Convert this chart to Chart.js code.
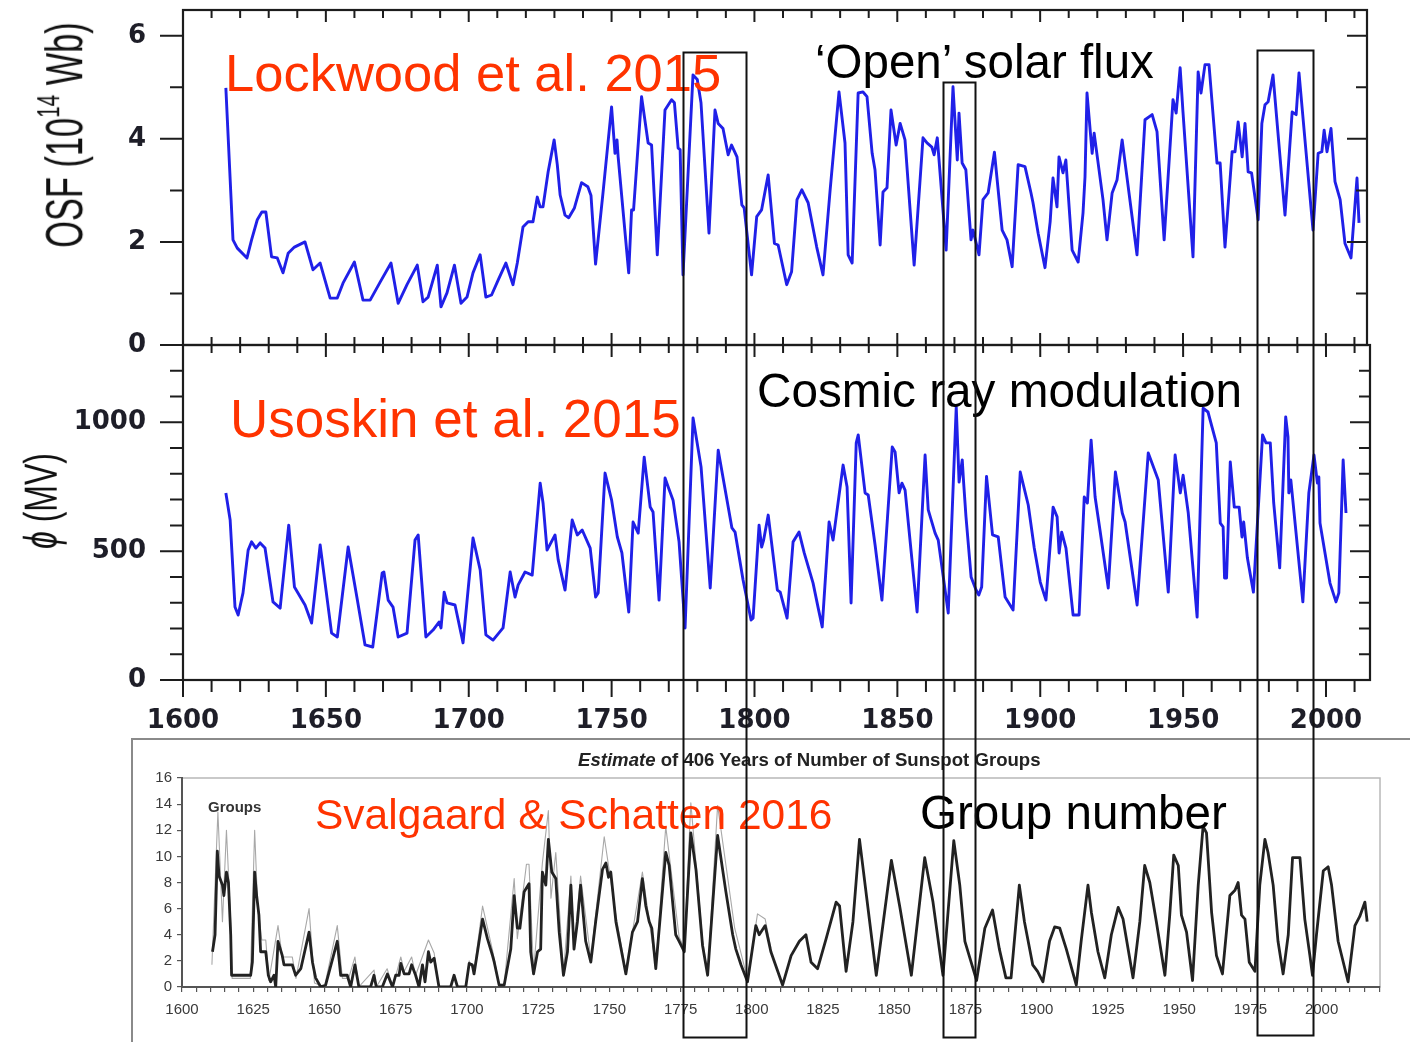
<!DOCTYPE html>
<html>
<head>
<meta charset="utf-8">
<script src="https://cdn.jsdelivr.net/npm/chart.js@4.4.0/dist/chart.umd.min.js"></script>
<style>
  body { margin: 0; width: 1410px; height: 1042px; background: #fff; position: relative; overflow: hidden;
         font-family: "Liberation Sans", Arial, sans-serif; }
  canvas { position: absolute; }
  .lbl { position: absolute; line-height: 1; white-space: nowrap; }
  .red { color: #ff3300; }
  .yt { position: absolute; line-height: 1; white-space: nowrap; color: #111; font-size: 40px; }
  .yt sup { font-size: 24px; vertical-align: 0.75em; line-height: 0; }
  #panel { position: absolute; left: 131px; top: 738px; width: 1320px; height: 340px; border: 2px solid #8a8a8a; box-sizing: border-box; }
</style>
</head>
<body>
<div id="panel"></div>
<canvas id="osf" width="1410" height="360" style="left:0;top:0;width:1410px;height:360px"></canvas>
<canvas id="phi" width="1410" height="410" style="left:0;top:330px;width:1410px;height:410px"></canvas>
<canvas id="grp" width="1279" height="304" style="left:131px;top:738px;width:1279px;height:304px"></canvas>

<div class="yt" style="left:64px;top:135px;transform:translate(-50%,-50%) rotate(-90deg) scale(0.86,1.3)">OSF (10<sup>14</sup> Wb)</div>
<div class="yt" style="left:41px;top:501px;transform:translate(-50%,-50%) rotate(-90deg) scale(0.8,1.15)"><i>ϕ</i> (MV)</div>

<div class="lbl red" style="left:225px;top:47px;font-size:52.5px">Lockwood et al. 2015</div>
<div class="lbl" style="left:815px;top:38px;font-size:47.5px">‘Open’ solar flux</div>
<div class="lbl red" style="left:230px;top:392px;font-size:53px">Usoskin et al. 2015</div>
<div class="lbl" style="left:757px;top:367px;font-size:47.7px">Cosmic ray modulation</div>
<div class="lbl red" style="left:315px;top:794px;font-size:42.5px">Svalgaard &amp; Schatten 2016</div>
<div class="lbl" style="left:920px;top:789px;font-size:47.6px">Group number</div>
<div class="lbl" style="left:208px;top:799px;font-size:15px;font-weight:bold;color:#333">Groups</div>
<div class="lbl" style="left:578px;top:751px;font-size:18.6px;font-weight:bold;color:#222"><i>Estimate</i> of 406 Years of Number of Sunspot Groups</div>

<canvas id="overlay" width="1410" height="1042" style="left:0;top:0;width:1410px;height:1042px;pointer-events:none"></canvas>

<script>
// ---- data ----
const yearTicks = [1600, 1650, 1700, 1750, 1800, 1850, 1900, 1950, 2000];
const osfTicks = [0, 2, 4, 6];
const phiTicks = [0, 500, 1000];
const groupYTicks = [0, 2, 4, 6, 8, 10, 12, 14, 16];
const groupXLabels = [1600, 1625, 1650, 1675, 1700, 1725, 1750, 1775, 1800, 1825, 1850, 1875, 1900, 1925, 1950, 1975, 2000];

// open solar flux (1e14 Wb)
const osfYears = [1615, 1617.5, 1619, 1622.4, 1624, 1626, 1627.6, 1629, 1631, 1633, 1635, 1636.8, 1639, 1642.7, 1645.5, 1648,
  1651.5, 1654, 1656, 1660, 1663, 1665.5, 1669, 1672.8, 1675.3, 1678.4, 1682, 1684, 1685.8, 1689, 1690.3, 1692.4, 1695,
  1697.3, 1699.4, 1701.5, 1704, 1706, 1708, 1710.3, 1713, 1715.5, 1717, 1719, 1720.8, 1722.5, 1724, 1725, 1726, 1727.8,
  1729.9, 1731, 1732, 1733.7, 1735, 1737, 1739.5, 1741.7, 1742.8, 1744.4, 1747, 1750, 1751.2, 1751.9, 1752.3, 1756, 1757,
  1757.7, 1760.5, 1762.8, 1764, 1766, 1768.7, 1771, 1772, 1773.3, 1774, 1775, 1778.5, 1780, 1781.3, 1784.1, 1786.2, 1787.3,
  1789, 1790.8, 1792, 1793.9, 1795.6, 1796.4, 1799, 1800.8, 1802.5, 1804.8, 1807, 1808.3, 1811.3, 1813, 1814.9, 1816.6,
  1818.8, 1821.8, 1824, 1826.5, 1829.6, 1831.7, 1832.8, 1834.2, 1836.3, 1838, 1839.4, 1841.2, 1842.2, 1844, 1845, 1846.4,
  1847.8, 1849.6, 1851, 1852.7, 1855.9, 1859, 1860.4, 1862.1, 1862.9, 1864, 1867.1, 1869.5, 1871, 1871.6, 1872.7, 1874,
  1875.8, 1876.5, 1878.6, 1880, 1881.8, 1884, 1886.7, 1888.4, 1890.2, 1892.3, 1894.7, 1896.8, 1897.5, 1899.3, 1901.7,
  1903.5, 1904.5, 1905.9, 1906.6, 1908, 1909, 1911.2, 1913.3, 1915, 1915.7, 1916.4, 1918.2, 1918.9, 1922, 1923.4, 1925.2,
  1926.9, 1928.7, 1933.9, 1936.7, 1939.2, 1940.9, 1943.4, 1946.5, 1947.6, 1949, 1950, 1953.5, 1955.3, 1956.3, 1957.7,
  1959.1, 1961.9, 1963, 1964.7, 1967.2, 1968.2, 1969.3, 1970.7, 1971.7, 1972.8, 1974, 1976.3, 1977.6, 1978.7, 1979.8,
  1981.5, 1985.7, 1988.2, 1989.6, 1990.6, 1995.5, 1997.3, 1998.6, 1999.4, 2000.4, 2001.8, 2003.2, 2005, 2006.7, 2008.8,
  2010.9, 2011.6];
const osfValues = [4.99, 2.04, 1.88, 1.69, 2.04, 2.43, 2.58, 2.58, 1.71, 1.69, 1.40, 1.78, 1.90, 2.00, 1.46, 1.59,
  0.91, 0.91, 1.20, 1.61, 0.87, 0.87, 1.22, 1.59, 0.81, 1.17, 1.55, 0.84, 0.93, 1.55, 0.74, 1.01, 1.55,
  0.81, 0.93, 1.40, 1.75, 0.93, 0.97, 1.26, 1.59, 1.17, 1.59, 2.29, 2.39, 2.39, 2.87, 2.68, 2.68, 3.36,
  3.98, 3.50, 2.91, 2.52, 2.47, 2.66, 3.15, 3.07, 2.90, 1.57, 2.95, 4.62, 3.72, 3.98, 3.65, 1.40, 2.62,
  2.62, 4.82, 3.92, 3.88, 1.75, 4.56, 4.76, 4.70, 3.82, 3.79, 1.36, 5.24, 5.15, 4.70, 2.17, 4.56, 4.30,
  4.20, 3.69, 3.88, 3.65, 2.72, 2.66, 1.36, 2.49, 2.62, 3.30, 1.97, 1.94, 1.17, 1.42, 2.82, 3.01,
  2.76, 1.90, 1.36, 3.01, 4.91, 3.92, 1.75, 1.59, 4.89, 4.91, 4.82, 3.72, 3.40, 1.94, 2.97, 3.05,
  4.56, 3.88, 4.30, 3.98, 1.55, 4.02, 3.92, 3.84, 3.69, 4.02, 1.84, 5.01, 3.59, 4.50, 3.53, 3.40,
  2.04, 2.23, 1.75, 2.82, 2.95, 3.74, 2.23, 2.04, 1.52, 3.50, 3.46, 2.95, 2.76, 2.17, 1.50,
  2.39, 3.24, 2.68, 3.65, 3.34, 3.59, 1.84, 1.61, 2.56, 3.26, 4.89, 3.72, 4.11, 2.82, 2.04, 2.95,
  3.20, 3.98, 1.75, 4.37, 4.47, 4.14, 2.04, 4.76, 4.50, 5.38, 4.52, 1.71, 5.30, 4.89, 5.44,
  5.44, 3.53, 3.53, 1.90, 3.75, 3.75, 4.33, 3.65, 4.30, 3.36, 3.34, 2.43, 4.30, 4.66, 4.72,
  5.24, 2.52, 4.52, 4.47, 5.28, 2.23, 3.72, 3.75, 4.17, 3.75, 4.20, 3.17, 2.82, 1.97, 1.69,
  3.24, 2.37];

// cosmic ray modulation potential phi (MV)
const phiYears = [1615, 1616.5, 1618.2, 1619.3, 1621, 1622.8, 1624, 1625.5, 1627, 1628.7, 1631.5, 1634, 1637, 1639, 1642.7,
  1645, 1648, 1652, 1654, 1657.8, 1660.9, 1663.7, 1666.4, 1669.7, 1670.3, 1671.8, 1673.5, 1675.3, 1678.4, 1681.2, 1682.3,
  1685, 1687.5, 1689.6, 1690.3, 1691.4, 1692.4, 1695.2, 1698, 1701.5, 1704, 1706, 1708.5, 1712, 1714.5, 1716.2, 1717.3,
  1719.7, 1722.2, 1725, 1726, 1727.4, 1730.2, 1731.3, 1733.7, 1736.2, 1738, 1739.7, 1742.5, 1744.4, 1745.3, 1747.7, 1750,
  1752, 1753.6, 1756, 1757.5, 1759.3, 1761.4, 1763.5, 1764.5, 1766.6, 1768.7, 1769.8, 1771.5, 1773.6, 1775.7, 1778.5,
  1781.3, 1784.5, 1787.3, 1792.1, 1793.2, 1796, 1798.8, 1799.5, 1801.6, 1802.5, 1803.2, 1804.8, 1808, 1809, 1811.4,
  1813.5, 1815.6, 1817.4, 1820.5, 1822.3, 1823.7, 1826.1, 1827.5, 1831, 1832.4, 1833.8, 1835.6, 1836.3, 1838.7, 1839.8,
  1842.2, 1844.6, 1848.2, 1849.2, 1850.6, 1851.6, 1852.7, 1856.9, 1859.7, 1860.8, 1863.2, 1864.3, 1867.8, 1870.6, 1871.6,
  1872.7, 1873.2, 1874, 1875.8, 1877.5, 1878.5, 1879.5, 1881.2, 1883.3, 1885.3, 1887.7, 1890.5, 1893, 1895.8, 1897.9,
  1900, 1902, 1904.5, 1905.9, 1906.6, 1907.5, 1909, 1911.5, 1913.6, 1915.4, 1916.5, 1917.8, 1919.2, 1921, 1923.8, 1926.3,
  1928.7, 1929.7, 1933.9, 1937.8, 1941.3, 1944.8, 1947.2, 1949, 1950, 1951.8, 1954.9, 1957, 1958.7, 1961.6, 1963, 1964,
  1964.5, 1965.2, 1966.5, 1967.9, 1969.6, 1970.6, 1971.2, 1972.5, 1974.6, 1977.8, 1979, 1980.5, 1981.7, 1983.8, 1985.9,
  1986.7, 1987, 1987.7, 1991.9, 1994, 1995.8, 1997, 1997.5, 1997.9, 2001.4, 2003.5, 2004.5, 2006, 2007];
const phiValues = [726, 621, 283, 252, 338, 504, 536, 512, 532, 512, 303, 279, 601, 361, 291,
  221, 524, 182, 167, 516, 318, 136, 128, 415, 419, 310, 283, 167, 182, 543, 563,
  167, 194, 225, 202, 341, 299, 291, 144, 551, 427, 175, 155, 202, 419, 322, 369,
  419, 407, 764, 687, 504, 563, 466, 349, 621, 563, 582, 512, 322, 338, 803, 698,
  555, 493, 264, 613, 570, 865, 671, 652, 310, 784, 749, 698, 536, 202, 1017,
  827, 357, 892, 590, 574, 388, 233, 240, 601, 516, 543, 640, 349, 341, 240,
  536, 574, 493, 376, 279, 206, 613, 543, 834, 749, 299, 920, 951, 726, 718,
  524, 310, 904, 885, 726, 764, 737, 264, 873, 660, 570, 543, 260, 1059, 768,
  854, 764, 635, 400, 350, 330, 361, 790, 563, 555, 322, 272, 807, 679, 512,
  380, 310, 671, 633, 493, 574, 512, 252, 252, 710, 687, 931, 710, 574, 357, 807,
  648, 613, 291, 881, 776, 341, 873, 726, 795, 648, 244, 1055, 1040, 920, 609, 594,
  396, 396, 846, 671, 671, 555, 613, 473, 341, 951, 920, 920, 687, 435, 1021,
  943, 726, 776, 303, 726, 873, 764, 788, 609, 376, 303, 338, 854, 648];

// sunspot group number (main estimate)
const groupYears = [1610.7, 1611.6, 1612.4, 1613, 1614.2, 1614.7, 1615.6, 1616.3, 1617.1, 1617.4, 1624.1, 1624.7, 1625.5,
  1626.2, 1627, 1627.6, 1629.4, 1630.3, 1631.1, 1632.3, 1632.9, 1633.7, 1635.2, 1635.8, 1638.7, 1639.9, 1641.7, 1644.6,
  1645.8, 1646.9, 1648.7, 1650.4, 1654.5, 1655.7, 1658, 1659.2, 1660.7, 1662.1, 1666.2, 1667.4, 1668.2, 1670.3, 1672.1,
  1673.9, 1675, 1676.2, 1676.8, 1678, 1679.7, 1680.6, 1682, 1683.2, 1684.4, 1685.3, 1686.5, 1687.3, 1688.5, 1690.2,
  1694.3, 1695.5, 1696.7, 1699.6, 1700.8, 1701.9, 1702.5, 1705.5, 1707.2, 1709, 1709.6, 1711.3, 1713.1, 1715.4, 1716.6,
  1717.7, 1718.6, 1720.1, 1721.8, 1722.4, 1723.4, 1724.8, 1725.9, 1726.5, 1727.7, 1728.6, 1729.8, 1731.2, 1732.4, 1733.9,
  1735.3, 1736.5, 1737.6, 1738.8, 1739.9, 1741.7, 1743.5, 1745.2, 1747.6, 1748.8, 1749.7, 1750.5, 1752.3, 1755.8, 1758.1,
  1759.9, 1761.6, 1762.8, 1764, 1764.9, 1766.3, 1769.8, 1771, 1773.3, 1774.5, 1776.3, 1778.6, 1780.4, 1782.7, 1784.5,
  1788, 1790.9, 1793.3, 1794.4, 1796.2, 1798.5, 1801.4, 1802.6, 1804.7, 1806.7, 1810.8, 1813.8, 1816.7, 1819, 1820.8,
  1823.1, 1826.1, 1829.6, 1830.8, 1833.1, 1835.5, 1837.8, 1843.7, 1849, 1851.9, 1856, 1860.7, 1863.6, 1867.1, 1870.9,
  1873, 1874.8, 1878.9, 1881.8, 1884.5, 1886.9, 1889.2, 1891, 1893.9, 1895.7, 1898.6, 1900.3, 1902.2, 1904.5, 1906.3,
  1908.1, 1910.4, 1913.9, 1915.6, 1918, 1919.2, 1921.5, 1923.9, 1926.2, 1928.6, 1930.3, 1933.8, 1936.2, 1937.9, 1939.7,
  1942, 1945, 1946.7, 1948.1, 1949.7, 1950.8, 1952.6, 1954.7, 1956.7, 1958.4, 1959.6, 1961.4, 1963.1, 1965.2, 1967.8,
  1969.6, 1970.7, 1971.9, 1973.1, 1974.6, 1976.6, 1978.3, 1980.1, 1981.2, 1983, 1984.7, 1986.5, 1988.3, 1989.8, 1992.4,
  1994.1, 1995.9, 1996.8, 1998.2, 2000.6, 2002.3, 2003.5, 2005.8, 2009.3, 2011.7, 2013.4, 2015.2, 2016];
const groupValues = [2.7, 4.0, 10.4, 8.5, 7.8, 7.0, 8.8, 8.0, 4.0, 0.9, 0.9, 1.9, 8.8,
  7.0, 5.5, 2.7, 2.7, 0.9, 0.4, 0.9, 0, 3.5, 2.4, 1.7, 1.7, 0.9, 1.4, 4.2,
  1.9, 0.7, 0, 0.15, 3.5, 0.9, 0.9, 0, 1.7, 0, 0, 0.9, 0, 0, 1.0,
  0, 0.9, 0.9, 1.8, 1.0, 1.0, 1.7, 0.9, 0, 1.7, 0.4, 2.7, 1.9, 2.2, 0,
  0, 0.9, 0, 0, 1.8, 1.7, 1.0, 5.2, 3.7, 2.4, 1.9, 0.15, 0.15, 2.9, 7.0,
  4.5, 4.5, 7.3, 7.9, 2.7, 1.0, 2.7, 2.9, 8.8, 7.8, 11.3, 8.8, 8.3, 4.2, 0.9,
  2.7, 7.8, 2.9, 5.0, 7.8, 3.5, 1.9, 5.0, 9.0, 9.5, 8.4, 8.8, 5.0, 1.0, 4.2,
  5.0, 8.3, 6.2, 5.0, 4.5, 1.4, 10.3, 9.3, 4.0, 3.5, 2.7, 11.8, 9.0, 3.2, 0.9,
  11.6, 7.3, 4.0, 2.9, 1.7, 0.4, 4.7, 4.0, 4.7, 2.7, 0.15, 2.4, 3.5, 4.0, 1.9,
  1.4, 3.7, 6.5, 6.2, 1.2, 5.0, 11.3, 0.9, 9.7, 6.2, 0.9, 9.9, 6.5, 0.9, 11.2,
  7.8, 3.5, 0.5, 4.5, 5.9, 2.9, 0.7, 0.7, 7.8, 5.0, 1.7, 1.2, 0.4, 3.5, 4.6,
  4.5, 2.9, 0.15, 3.5, 7.8, 5.7, 2.7, 0.7, 4.0, 6.1, 5.2, 0.7, 5.0, 9.3, 8.0,
  5.0, 0.9, 5.5, 10.1, 9.3, 5.5, 4.2, 0.5, 7.8, 12.3, 11.8, 5.7, 2.4, 1.0, 7.0,
  7.4, 8.0, 5.5, 5.2, 1.9, 1.2, 7.8, 11.3, 10.3, 7.8, 3.5, 1.0, 4.0, 9.9, 9.9,
  5.2, 2.4, 0.9, 4.0, 8.9, 9.2, 7.8, 3.5, 0.4, 4.7, 5.4, 6.5, 5.0];

// other group-number estimates (thin grey), visible where they differ
const groupAltYears = [1610.5, 1612.6, 1614.2, 1615.6, 1617.2, 1617.6, 1624, 1625.5, 1626.5, 1628, 1629.4, 1630.5, 1633.7,
  1635.2, 1638.7, 1640, 1644.6, 1646.5, 1650, 1654.5, 1656.3, 1658.5, 1660.7, 1662, 1667.4, 1668.2, 1672, 1674, 1676.8,
  1678, 1680.6, 1682, 1686.5, 1688.5, 1690.2, 1699.6, 1700.8, 1702.5, 1705.5, 1709, 1711.3, 1713.1, 1716.6, 1717.7,
  1720.9, 1721.8, 1723.4, 1726.5, 1728.6, 1729.5, 1731.2, 1733.9, 1736.5, 1737.6, 1739.9, 1743.5, 1748.2, 1752.3,
  1755.8, 1761.6, 1766.3, 1769.8, 1774.5, 1776.3, 1778.6, 1782.7, 1784.5, 1788, 1794, 1798.5, 1802, 1804.7, 1806.7];
const groupAltValues = [1.7, 13.4, 5.0, 12.0, 4.5, 0.66, 0.66, 12.0, 6.5, 3.6, 3.6, 0.5, 4.7,
  2.3, 2.3, 0.66, 6.0, 0.3, 0, 4.7, 0.66, 0.66, 2.3, 0, 1.3, 0, 1.4, 0, 2.3,
  1.2, 2.3, 0.9, 3.6, 2.6, 0, 0, 2.0, 1.2, 6.2, 2.8, 0.2, 0.2, 8.3, 3.7,
  9.4, 9.4, 1.2, 9.5, 13.5, 6.8, 10.3, 1.0, 8.5, 3.2, 8.5, 2.2, 11.5, 5.5,
  1.2, 8.8, 1.5, 12.3, 3.8, 3.0, 14.1, 3.6, 1.0, 13.9, 4.5, 0.6, 5.6, 5.2, 3.0];

// highlighted year windows (top in OSF units, bottom in group units)
const highlightStart = [1775.0, 1866.0, 1975.9];
const highlightEnd = [1797.1, 1877.2, 1995.5];
const highlightTop = [5.69, 5.11, 5.73];
const highlightBottom = [-3.8, -3.8, -3.65];

// ---- helpers ----
const pts = (xs, ys) => xs.map((x, i) => ({ x: x, y: ys[i] }));

function tickList(from, to, step, majors) {
  const out = [];
  for (let v = from; v <= to + 1e-9; v += step) {
    const r = Math.round(v * 100) / 100;
    out.push([r, majors.includes(r)]);
  }
  return out;
}

// frame with tick marks; positive length = inward, negative = outward
const framePlugin = {
  id: 'frame',
  afterDatasetsDraw(chart, args, o) {
    if (!o.on) return;
    const { ctx, chartArea: a, scales } = chart;
    const x = scales.x, y = scales.y;
    ctx.save();
    ctx.strokeStyle = '#1c1c1c';
    ctx.lineWidth = 2;
    ctx.beginPath();
    o.xTicks.forEach(([v, major]) => {
      const px = x.getPixelForValue(v);
      const t = major ? o.top[0] : o.top[1];
      ctx.moveTo(px, a.top); ctx.lineTo(px, a.top + t);
      const b = major ? o.bottom[0] : o.bottom[1];
      ctx.moveTo(px, a.bottom); ctx.lineTo(px, a.bottom - b);
    });
    o.yTicks.forEach(([v, major]) => {
      const py = y.getPixelForValue(v);
      const l = major ? o.left[0] : o.left[1];
      ctx.moveTo(a.left, py); ctx.lineTo(a.left + l, py);
      const r = major ? o.right[0] : o.right[1];
      ctx.moveTo(a.right, py); ctx.lineTo(a.right - r, py);
    });
    ctx.stroke();
    ctx.lineWidth = 2.2;
    ctx.strokeRect(a.left, a.top, a.right - a.left, a.bottom - a.top);
    ctx.restore();
  }
};

const plotBox = {
  id: 'plotBox',
  beforeDraw(chart, args, o) {
    if (!o.on) return;
    const { ctx, chartArea: a } = chart;
    ctx.save();
    ctx.strokeStyle = '#b8b8b8';
    ctx.lineWidth = 1.5;
    ctx.strokeRect(a.left, a.top, a.right - a.left, a.bottom - a.top);
    ctx.restore();
  }
};

Chart.register(framePlugin, plotBox);

// small lineHeight keeps the label padding inside the layout padding
const tickFont = { family: 'DejaVu Sans', weight: 'bold', size: 26, lineHeight: 0.7 };
const xTickMarks = tickList(1600, 2010, 10, yearTicks);
const blue = 'rgb(32,32,232)';

function lineSet(xs, ys, color, width) {
  return { data: pts(xs, ys), borderColor: color, borderWidth: width, pointRadius: 0, tension: 0,
           borderJoinStyle: 'round', fill: false };
}

const hiddenTicks = { display: false, drawTicks: true, tickLength: 37 };

// ---- top: open solar flux ----
const osfChart = new Chart(document.getElementById('osf'), {
  type: 'line',
  data: { datasets: [lineSet(osfYears, osfValues, blue, 2.9)] },
  options: {
    responsive: false, animation: false,
    layout: { padding: { left: 0, top: 10, right: 43, bottom: 15 } },
    plugins: {
      legend: { display: false }, tooltip: { enabled: false },
      frame: { on: true, xTicks: xTickMarks, yTicks: tickList(0, 6, 1, osfTicks),
               top: [12, 8], bottom: [12, 8], left: [-23, -13], right: [20, 11] }
    },
    scales: {
      x: { type: 'linear', display: false, min: 1600, max: 2014.4 },
      y: {
        min: 0, max: 6.5,
        afterBuildTicks: s => { s.ticks = osfTicks.map(v => ({ value: v })); },
        afterFit: s => { s.width = 183; },
        grid: hiddenTicks, border: { display: false },
        ticks: { font: tickFont, color: '#1e1e28', padding: 0, callback: v => String(v) }
      }
    }
  }
});

// ---- middle: cosmic ray modulation ----
const phiChart = new Chart(document.getElementById('phi'), {
  type: 'line',
  data: { datasets: [lineSet(phiYears, phiValues, blue, 2.9)] },
  options: {
    responsive: false, animation: false,
    layout: { padding: { left: 0, top: 15, right: 40, bottom: 0 } },
    plugins: {
      legend: { display: false }, tooltip: { enabled: false },
      frame: { on: true, xTicks: xTickMarks, yTicks: tickList(0, 1200, 100, phiTicks),
               top: [12, 8], bottom: [-17, -12], left: [-23, -13], right: [20, 11] }
    },
    scales: {
      x: {
        type: 'linear', min: 1600, max: 2015.4,
        afterBuildTicks: s => { s.ticks = yearTicks.map(v => ({ value: v })); },
        afterFit: s => { s.height = 60; },
        grid: { display: false, drawTicks: false }, border: { display: false },
        ticks: { font: { family: 'DejaVu Sans', weight: 'bold', size: 26 }, color: '#1e1e28', padding: 26,
                 maxRotation: 0, autoSkip: false, callback: v => String(v) }
      },
      y: {
        min: 0, max: 1300,
        afterBuildTicks: s => { s.ticks = phiTicks.map(v => ({ value: v })); },
        afterFit: s => { s.width = 183; },
        grid: hiddenTicks, border: { display: false },
        ticks: { font: tickFont, color: '#1e1e28', padding: 0, callback: v => String(v) }
      }
    }
  }
});

// ---- bottom: group number (spreadsheet style) ----
const grpChart = new Chart(document.getElementById('grp'), {
  type: 'line',
  data: { datasets: [
    lineSet(groupYears, groupValues, '#222', 2.8),
    lineSet(groupAltYears, groupAltValues, '#a8a8a8', 1.1)
  ] },
  options: {
    responsive: false, animation: false,
    layout: { padding: { left: 0, top: 40, right: 30, bottom: 0 } },
    plugins: { legend: { display: false }, tooltip: { enabled: false }, plotBox: { on: true } },
    scales: {
      x: {
        type: 'linear', min: 1600, max: 2020.5,
        afterFit: s => { s.height = 55; },
        grid: { drawOnChartArea: false, drawTicks: true, tickLength: 5, color: '#555', lineWidth: 1.2 },
        border: { display: true, color: '#555', width: 2 },
        ticks: { stepSize: 5, autoSkip: false, maxRotation: 0, padding: 9, color: '#3a3a3a',
                 font: { family: 'Liberation Sans', size: 15 },
                 callback: v => groupXLabels.includes(v) ? String(v) : '' }
      },
      y: {
        min: 0, max: 16,
        afterBuildTicks: s => { s.ticks = groupYTicks.map(v => ({ value: v })); },
        afterFit: s => { s.width = 51; },
        grid: { drawOnChartArea: false, drawTicks: true, tickLength: 5, color: '#555', lineWidth: 1.2 },
        border: { display: true, color: '#555', width: 2 },
        ticks: { padding: 5, color: '#3a3a3a', font: { family: 'Liberation Sans', size: 15 } }
      }
    }
  }
});

// ---- highlight boxes spanning all three panels ----
(function drawHighlights() {
  const ctx = document.getElementById('overlay').getContext('2d');
  const osfTop = document.getElementById('osf').offsetTop;
  const grpTop = document.getElementById('grp').offsetTop;
  ctx.strokeStyle = '#111';
  ctx.lineWidth = 2;
  highlightStart.forEach((s, i) => {
    const x1 = osfChart.scales.x.getPixelForValue(s);
    const x2 = osfChart.scales.x.getPixelForValue(highlightEnd[i]);
    const y1 = osfTop + osfChart.scales.y.getPixelForValue(highlightTop[i]);
    const y2 = grpTop + grpChart.scales.y.getPixelForValue(highlightBottom[i]);
    ctx.strokeRect(Math.round(x1) + 0.5, Math.round(y1) + 0.5, Math.round(x2 - x1), Math.round(y2 - y1));
  });
})();
</script>
</body>
</html>
